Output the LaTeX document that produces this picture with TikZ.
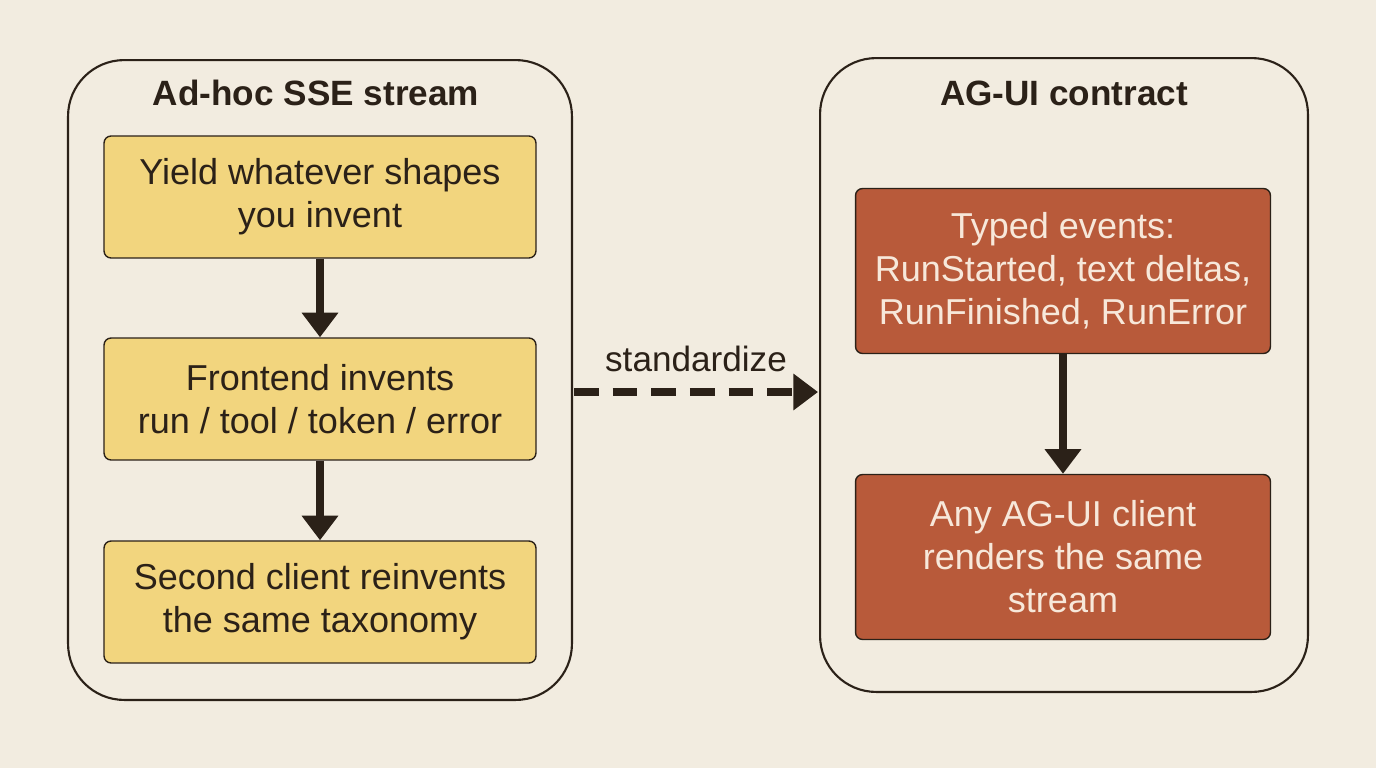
\documentclass[tikz,border=0pt]{standalone}
\usepackage{fontspec}
\setmainfont{Liberation Sans}
\usetikzlibrary{positioning,arrows.meta}
\definecolor{bgcol}{HTML}{F2ECE0}
\definecolor{inkcol}{HTML}{2B2118}
\definecolor{sandcol}{HTML}{F2D57E}
\definecolor{rustcol}{HTML}{B85A3A}
\definecolor{palecol}{HTML}{F7E8DA}
\tikzset{
  panel/.style    = {draw=inkcol, line width=1.2pt, rounded corners=32pt, fill=bgcol},
  title/.style    = {font=\fontsize{20}{24}\selectfont\bfseries, text=inkcol},
  stepbox/.style  = {draw=inkcol, line width=0.8pt, rounded corners=4pt, align=center,
                     fill=sandcol, text=inkcol, minimum width=8.64cm, minimum height=2.44cm,
                     font=\fontsize{20.5}{24.5}\selectfont},
  eventbox/.style = {stepbox, fill=rustcol, text=palecol, minimum width=8.3cm, minimum height=3.3cm},
  flow/.style     = {draw=inkcol, line width=4pt, -{Triangle[length=14pt,width=20pt]}}
}
\begin{document}
\begin{tikzpicture}[x=0.02cm,y=-0.02cm]
\fill[bgcol] (0,0) rectangle (1376,768);
% left panel
\node[panel, minimum width=10.08cm, minimum height=12.8cm] (adhoc) at (320,380) {};
\node[title] (adhocT) at (316,93) {Ad-hoc SSE stream};
\node[stepbox] (yield) at (320,197) {Yield whatever shapes\\you invent};
\node[stepbox] (front) at (320,399) {Frontend invents\\run / tool / token / error};
\node[stepbox] (second) at (320,602) {Second client reinvents\\the same taxonomy};
\draw[flow] (yield) -- (front);
\draw[flow] (front) -- (second);
% right panel
\node[panel, minimum width=9.76cm, minimum height=12.68cm] (agui) at (1064,375) {};
\node[title] (aguiT) at (1064,93) {AG-UI contract};
\node[eventbox] (typed) at (1063,271) {Typed events:\\RunStarted, text deltas,\\RunFinished, RunError};
\node[eventbox] (any) at (1063,557) {Any AG-UI client\\renders the same\\stream};
\draw[flow] (typed) -- (any);
% bridge
\coordinate (from) at (574,392);
\coordinate (to) at (818,392);
\draw[draw=inkcol, line width=4pt, dash pattern=on 14pt off 8pt, -{Triangle[length=14pt,width=20pt]}] (from) -- (to)
  node[midway, above=6pt, text=inkcol, font=\fontsize{20}{24}\selectfont] {standardize};
\end{tikzpicture}
\end{document}
